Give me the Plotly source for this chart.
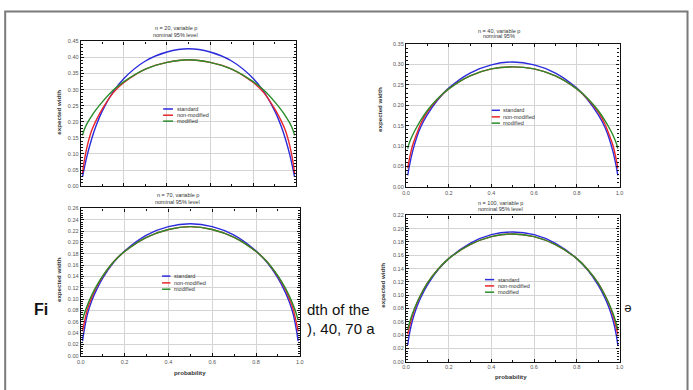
import plotly.graph_objects as go

W, H = 693, 390

# ---------------- data ----------------
p = [0.008, 0.015, 0.03, 0.05, 0.07, 0.1, 0.15, 0.2, 0.3, 0.4, 0.5,
     0.6, 0.7, 0.8, 0.85, 0.9, 0.93, 0.95, 0.97, 0.985, 0.992]

series_names = ["standard", "non-modified", "modified"]

std20 = [0.029, 0.052, 0.097, 0.146, 0.186, 0.234, 0.293, 0.335, 0.389, 0.417, 0.427,
         0.417, 0.389, 0.335, 0.293, 0.234, 0.186, 0.146, 0.097, 0.052, 0.029]
non20 = [0.040, 0.075, 0.125, 0.172, 0.203, 0.240, 0.290, 0.322, 0.364, 0.385, 0.393,
         0.385, 0.364, 0.322, 0.290, 0.240, 0.203, 0.172, 0.125, 0.075, 0.040]
mod20 = [0.158, 0.174, 0.196, 0.218, 0.237, 0.262, 0.298, 0.325, 0.364, 0.385, 0.393,
         0.385, 0.364, 0.325, 0.298, 0.262, 0.237, 0.218, 0.196, 0.174, 0.158]

std40 = [0.028, 0.049, 0.085, 0.121, 0.148, 0.177, 0.214, 0.242, 0.279, 0.299, 0.306,
         0.299, 0.279, 0.242, 0.214, 0.177, 0.148, 0.121, 0.085, 0.049, 0.028]
non40 = [0.045, 0.066, 0.100, 0.130, 0.156, 0.184, 0.216, 0.240, 0.272, 0.289, 0.294,
         0.289, 0.272, 0.240, 0.216, 0.184, 0.156, 0.130, 0.100, 0.066, 0.045]
mod40 = [0.094, 0.107, 0.126, 0.146, 0.164, 0.187, 0.217, 0.240, 0.272, 0.289, 0.294,
         0.289, 0.272, 0.240, 0.217, 0.187, 0.164, 0.146, 0.126, 0.107, 0.094]

std70 = [0.026, 0.044, 0.073, 0.097, 0.115, 0.137, 0.165, 0.185, 0.213, 0.228, 0.233,
         0.228, 0.213, 0.185, 0.165, 0.137, 0.115, 0.097, 0.073, 0.044, 0.026]
non70 = [0.043, 0.057, 0.082, 0.103, 0.120, 0.140, 0.166, 0.184, 0.209, 0.223, 0.228,
         0.223, 0.209, 0.184, 0.166, 0.140, 0.120, 0.103, 0.082, 0.057, 0.043]
mod70 = [0.063, 0.073, 0.089, 0.107, 0.122, 0.141, 0.166, 0.184, 0.209, 0.223, 0.228,
         0.223, 0.209, 0.184, 0.166, 0.141, 0.122, 0.107, 0.089, 0.073, 0.063]

std100 = [0.025, 0.040, 0.062, 0.082, 0.097, 0.115, 0.138, 0.155, 0.178, 0.191, 0.195,
          0.191, 0.178, 0.155, 0.138, 0.115, 0.097, 0.082, 0.062, 0.040, 0.025]
non100 = [0.041, 0.051, 0.069, 0.087, 0.101, 0.118, 0.139, 0.155, 0.176, 0.188, 0.192,
          0.188, 0.176, 0.155, 0.139, 0.118, 0.101, 0.087, 0.069, 0.051, 0.041]
mod100 = [0.048, 0.057, 0.072, 0.088, 0.101, 0.118, 0.139, 0.155, 0.176, 0.188, 0.192,
          0.188, 0.176, 0.155, 0.139, 0.118, 0.101, 0.088, 0.072, 0.057, 0.048]

titles = [["n = 20, variable p", "nominal 95% level"],
          ["n = 40, variable p", "nominal 95%"],
          ["n = 70, variable p", "nominal 95% level"],
          ["n = 100, variable p", "nominal 95% level"]]
y_ranges = [0.45, 0.35, 0.26, 0.22]
y_dticks = [0.05, 0.05, 0.02, 0.02]
x_ticks = [0.0, 0.2, 0.4, 0.6, 0.8, 1.0]
y_title = "expected width"
x_title = "probability"

panels = [[std20, non20, mod20], [std40, non40, mod40],
          [std70, non70, mod70], [std100, non100, mod100]]

# ---------------- layout geometry (pixels) ----------------
colors = ["#2b2bdc", "#e8262b", "#2a8c2a"]
FONT = "Liberation Sans, Arial, sans-serif"
# plot areas: x0, x1, y0(top), y1(bottom)
boxes = [(77.7, 295.7, 39.0, 186.0),
         (406.7, 622.7, 41.7, 186.7),
         (77.7, 299.3, 208.7, 358.3),
         (406.7, 622.7, 215.7, 364.3)]
show_xlabels = [False, True, True, True]
show_xtitle = [False, False, True, True]
title_pos = [(174, 25.0, 32.3), (501, 28.3, 33.6), (176, 195.3, 201.7), (502, 203.3, 209.2)]
ylab_pos = [(55, 111), (380, 108), (55, 281), (383.5, 287)]
xlab_pos = [None, None, (188, 375.5), (513, 379)]
legend_geom = [  # x0 frac, x1 frac, text x frac, row y fracs
    (0.382, 0.428, 0.435, [0.533, 0.490, 0.449]),
    (0.401, 0.440, 0.447, [0.536, 0.490, 0.446]),
    (0.371, 0.409, 0.415, [0.541, 0.495, 0.452]),
    (0.370, 0.413, 0.420, [0.561, 0.518, 0.475]),
]

def px(x):
    return x / W

def py(y):
    return 1 - y / H

fig = go.Figure()
layout = dict(width=W, height=H, margin=dict(l=0, r=0, t=0, b=0),
              paper_bgcolor="white", plot_bgcolor="white", showlegend=False,
              font=dict(family=FONT, color="#333"))
annotations = []
shapes = []

for i, (vals, box) in enumerate(zip(panels, boxes)):
    k = "" if i == 0 else str(i + 1)
    xa, ya = "x" + k, "y" + k
    for s, (name, v) in enumerate(zip(series_names, vals)):
        fig.add_trace(go.Scatter(x=p, y=v, mode="lines", name=name,
                                 line=dict(color=colors[s], width=1.4, shape="spline", smoothing=0.8),
                                 xaxis=xa, yaxis=ya, hoverinfo="skip"))
    x0, x1, yt, yb = box
    common = dict(showline=True, linecolor="#111", linewidth=1.3, mirror="allticks",
                  ticks="inside", ticklen=3, tickcolor="#111", tickwidth=1,
                  showgrid=True, gridcolor="#d4d4d4", gridwidth=1, zeroline=False,
                  tickfont=dict(size=5.5, color="#555", family=FONT))
    layout["xaxis" + k] = dict(common, domain=[px(x0), px(x1)], anchor=ya, range=[0, 1],
                               tickvals=x_ticks, tickformat=".1f",
                               showticklabels=show_xlabels[i],
                               minor=dict(dtick=0.1, ticks="inside", ticklen=2, tickcolor="#111", showgrid=False))
    layout["yaxis" + k] = dict(common, domain=[py(yb), py(yt)], anchor=xa,
                               range=[0, y_ranges[i]], dtick=y_dticks[i], tick0=0,
                               tickformat=".2f",
                               minor=dict(dtick=y_dticks[i] / 5, ticks="inside", ticklen=2,
                                          tickcolor="#111", showgrid=False))
    # titles
    tx, t1, t2 = title_pos[i]
    for txt, yy in [(titles[i][0], t1), (titles[i][1], t2)]:
        annotations.append(dict(text=txt, x=px(tx), y=py(yy), xref="paper", yref="paper",
                                showarrow=False, xanchor="center", yanchor="middle",
                                font=dict(size=5.5, color="#333", family=FONT)))
    # y title
    lx, ly = ylab_pos[i]
    annotations.append(dict(text="<b>" + y_title + "</b>", x=px(lx), y=py(ly), xref="paper", yref="paper",
                            showarrow=False, textangle=-90, xanchor="center", yanchor="middle",
                            font=dict(size=6.2, color="#333", family=FONT)))
    if show_xtitle[i]:
        bx, by = xlab_pos[i]
        annotations.append(dict(text="<b>" + x_title + "</b>", x=px(bx), y=py(by), xref="paper", yref="paper",
                                showarrow=False, xanchor="center", yanchor="middle",
                                font=dict(size=6.2, color="#333", family=FONT)))
    # in-plot legend
    lx0, lx1, ltx, rows = legend_geom[i]
    for s, name in enumerate(series_names):
        shapes.append(dict(type="line", xref=xa + " domain", yref=ya + " domain",
                           x0=lx0, x1=lx1, y0=rows[s], y1=rows[s],
                           line=dict(color=colors[s], width=1.5)))
        annotations.append(dict(text=name, xref=xa + " domain", yref=ya + " domain",
                                x=ltx, y=rows[s], showarrow=False, xanchor="left", yanchor="middle",
                                font=dict(size=5.5, color="#333", family=FONT)))

# slide text fragments peeking out behind the chart images
slide_text = [("<b>Fi</b>", 28, 311.5, 16, 0),
              ("dth of the", 305, 311.5, 15, 0),
              ("), 40, 70 a", 305, 331, 15, 0),
              ("e", 631, 312, 13, 180)]
for txt, x, y, size, ang in slide_text:
    annotations.append(dict(text=txt, x=px(x), y=py(y), xref="paper", yref="paper",
                            showarrow=False, xanchor="left" if ang == 0 else "center", yanchor="middle",
                            textangle=ang, font=dict(size=size, color="#111", family=FONT)))

# outer slide frame
shapes.append(dict(type="rect", xref="paper", yref="paper",
                   x0=px(1.2), x1=px(691.5), y0=py(400), y1=py(8.7),
                   line=dict(color="#7a7a7a", width=2)))

layout["annotations"] = annotations
layout["shapes"] = shapes
fig.update_layout(**layout)
fig.write_html("out.html")
